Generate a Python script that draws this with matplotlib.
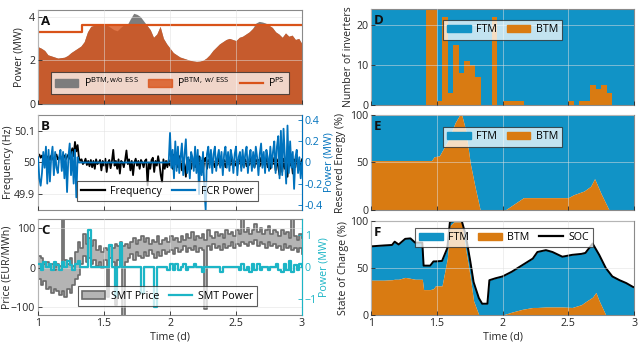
import numpy as np
import matplotlib
matplotlib.use('Agg')
import matplotlib.pyplot as plt
from matplotlib.patches import Patch
from matplotlib.lines import Line2D

plt.rcParams['font.family'] = ['Open Sans', 'DejaVu Sans']
plt.rcParams['font.size'] = 7.7
plt.rcParams['mathtext.fontset'] = 'custom'
plt.rcParams['mathtext.rm'] = 'Open Sans'
plt.rcParams['mathtext.default'] = 'regular'

# ---------------- data ----------------
# A: site load in MW, every 0.025 d from day 1 to day 3
load_wo_ess = [2.62, 2.55, 2.45, 2.25, 2.20, 2.15, 2.10, 2.12, 2.14, 2.22,
               2.35, 2.45, 2.55, 2.65, 2.85, 3.30, 3.55, 3.60, 3.62, 3.62,
               3.62, 3.60, 3.50, 3.40, 3.35, 3.50, 3.62, 3.62, 3.90, 4.15,
               4.10, 4.00, 3.80, 3.60, 3.40, 3.05, 3.20, 3.55, 3.00, 2.75,
               2.55, 2.35, 2.25, 2.15, 2.10, 2.05, 2.00, 1.97, 1.95, 1.96,
               2.00, 2.10, 2.25, 2.45, 2.60, 2.75, 2.85, 2.95, 3.00, 2.95,
               2.90, 3.05, 3.10, 3.20, 3.30, 3.45, 3.70, 3.78, 3.75, 3.70,
               3.60, 3.50, 3.30, 3.20, 3.05, 3.25, 3.10, 3.15, 2.95, 3.00,
               2.75]
load_w_ess = [2.62, 2.55, 2.45, 2.25, 2.20, 2.15, 2.10, 2.12, 2.14, 2.22,
              2.35, 2.45, 2.55, 2.65, 2.85, 3.30, 3.55, 3.60, 3.60, 3.60,
              3.60, 3.60, 3.60, 3.60, 3.60, 3.60, 3.60, 3.60, 3.60, 3.60,
              3.60, 3.60, 3.60, 3.60, 3.40, 3.05, 3.20, 3.55, 3.00, 2.75,
              2.55, 2.35, 2.25, 2.15, 2.10, 2.05, 2.00, 1.97, 1.95, 1.96,
              2.00, 2.10, 2.25, 2.45, 2.60, 2.75, 2.85, 2.95, 3.00, 2.95,
              2.90, 3.05, 3.10, 3.20, 3.30, 3.45, 3.60, 3.60, 3.60, 3.60,
              3.60, 3.50, 3.30, 3.20, 3.05, 3.25, 3.10, 3.15, 2.95, 3.00,
              2.75]
ps_time = [1.0, 1.33, 3.0]
ps_level = [3.3, 3.6, 3.6]

# B: grid frequency deviation (mHz) and FCR power (MW), every 0.01 d
freq_mhz = [20, 25, 15, 22, 10, 18, 25, 12, 20, 8, 22, 15, 5, 18, 25, 10, 15, 20, 8, 15,
            22, 10, 18, 25, 12, 30, 45, 20, 65, 35, 55, 15, 5, 10, -5, 0, 12, -8, 5, -12,
            8, -15, 5, -20, 10, -5, 0, 8, -25, 5, -10, 12, -30, 0, 8, -18, 5, 40, -10, 5,
            -20, 10, -35, 5, 0, -15, 8, 38, -5, 10, -25, 5, -40, 0, 12, -10, 5, -20, 8, 0,
            -15, 5, 10, -72, 0, -20, 8, 15, -30, 5, -10, 20, -5, -40, -62, 10, -20, 5, -15, 8,
            -10, 15, -20, 25, -5, 10, -15, 20, 5, -25, 12, -8, -45, 15, -10, 8, -20, 10, 5, -15,
            12, -8, 20, -15, 5, -30, 10, 15, -20, 8, -5, 12, -10, 5, -15, 10, -8, 15, -12, 5,
            -10, 8, -15, 12, -5, 10, -8, 15, -12, 5, -10, 8, -5, 12, -15, 5, -8, 10, -12, 6,
            -8, 12, -10, 5, -15, 10, -5, 8, -12, 15, -8, 5, -10, 12, -15, 8, -20, 10, -5, 15,
            -25, 10, -15, -40, 20, -30, 12, -20, 8, -45, 15, -10, 5, -35, 10, -15, 20, -10, 5, -12,
            10]
fcr_power = [0.05, -0.15, -0.22, -0.10, 0.10, -0.05, 0.15, -0.20, 0.12, -0.18,
             0.05, 0.15, -0.12, 0.10, -0.05, -0.10, 0.05, 0.12, -0.08, 0.10,
             -0.15, 0.08, -0.28, 0.05, 0.18, -0.12, 0.10, -0.20, 0.12, -0.33,
             0.05, 0.0, 0.0, 0.0, 0.0, 0.0, 0.0, 0.0, 0.0, 0.0,
             0.0, 0.0, 0.0, 0.0, 0.0, 0.0, 0.0, 0.0, 0.0, 0.0,
             0.0, 0.0, 0.0, 0.0, 0.0, 0.0, 0.0, 0.0, 0.0, 0.0,
             0.0, 0.0, 0.0, 0.0, 0.0, 0.0, 0.0, 0.0, 0.0, 0.0,
             0.0, 0.0, 0.0, 0.0, 0.0, 0.0, 0.0, 0.0, 0.0, 0.0,
             0.0, 0.0, 0.0, 0.0, 0.0, 0.0, 0.0, 0.0, 0.0, 0.0,
             0.0, 0.0, 0.0, 0.0, 0.0, 0.0, 0.0, 0.0, 0.0, 0.0,
             0.28, -0.05, 0.12, -0.15, 0.20, -0.08, 0.15, -0.10, 0.05, 0.18,
             -0.12, 0.08, 0.22, -0.10, 0.05, -0.15, 0.10, 0.05, -0.08, 0.15,
             -0.10, 0.12, -0.30, 0.05, -0.12, 0.10, -0.25, -0.45, 0.08, 0.15,
             -0.05, 0.12, -0.10, 0.08, 0.15, -0.08, 0.05, 0.12, -0.05, 0.10,
             -0.12, 0.08, 0.15, -0.05, 0.10, -0.08, 0.12, 0.05, -0.10, 0.08,
             0.15, -0.12, 0.05, 0.10, -0.08, 0.12, -0.05, 0.08, 0.15, -0.10,
             0.05, 0.12, -0.08, 0.10, -0.05, 0.15, 0.05, -0.12, 0.08, 0.18,
             -0.05, 0.10, -0.10, 0.12, 0.05, -0.08, 0.15, -0.05, 0.10, 0.20,
             -0.10, 0.15, 0.25, -0.15, 0.30, -0.12, 0.32, 0.05, -0.20, 0.35,
             -0.10, 0.20, -0.05, 0.10, -0.25, 0.05, 0.12, -0.10, 0.05, -0.15,
             0.0]

# C: SMT price band (EUR/MWh) and SMT power (MW), every 0.02 d
price_upper = [30, 25, 10, 15, 5, 10, -5, 10, 5, 125,
               20, 10, 25, 5, 40, 65, 50, 85, 60, 75,
               55, 70, 45, 55, 40, 50, 45, 55, 50, 60,
               55, 65, 55, 60, 50, 65, 75, 60, 70, 80,
               65, 75, 60, 70, 65, 80, 60, 70, 75, 65,
               80, 70, 75, 65, 80, 70, 85, 75, 90, 70,
               80, 75, 85, 70, 95, 80, 75, 90, 80, 85,
               75, 95, 85, 90, 80, 95, 85, 125, 90, 100,
               85, 95, 110, 90, 100, 85, 95, 105, 85, 95,
               90, 80, 95, 85, 90, 75, 125, 80, 70, 85,
               75]
price_lower = [-30, -45, -35, -55, -50, -65, -55, -60, -70, -60,
               -75, -55, -65, -45, -30, -20, 10, 30, 15, 25,
               10, 20, 5, 15, 0, 20, -75, 25, 15, -95,
               20, 10, -125, 15, 25, 35, 20, 40, 30, 25,
               40, 30, 45, 35, 25, 40, 30, 45, 35, 40,
               45, 35, 50, 40, 45, 55, 40, 50, 45, 55,
               40, 50, 45, -105, 55, 45, 60, 50, 55, 45,
               60, 50, 55, 65, 50, 60, 55, 65, 60, 55,
               65, 60, 70, 55, 65, 60, 50, 65, 55, 60,
               50, 55, 45, 60, 50, 55, 45, 50, 40, 50,
               35]
smt_power = [0.10, -0.10, 0.15, 0.00, 0.10, -0.10, 0.15, 0.05, -0.10, 0.15,
             0.00, 0.20, 0.05, -0.10, 0.10, 0.20, 0.00, 0.00, 0.00, 1.15,
             0.00, 0.00, 0.00, 0.00, 0.00, 0.00, 0.00, 0.70, 0.00, -0.90,
             0.00, 0.75, 0.00, 0.00, 0.00, 0.00, 0.00, 0.00, 0.00, -0.80,
             0.00, 0.00, 0.00, 0.00, -1.25, 0.00, 0.00, 0.00, 0.00, -0.10,
             0.10, -0.10, 0.10, -0.10, 0.00, 0.10, -0.10, 0.00, 0.00, 0.10,
             0.00, 0.00, -0.15, 0.00, 0.00, 0.00, 0.00, 0.00, 0.00, -0.15,
             0.00, 0.00, 0.00, 0.00, 0.00, 0.00, -0.10, 0.10, -0.10, 0.00,
             -0.15, 0.10, -0.10, 0.10, -0.10, 0.00, 0.00, -0.10, 0.00, 0.00,
             0.10, -0.10, -0.15, 0.10, -0.10, 0.20, -0.15, 0.05, -0.10, 0.10,
             0.00]

# D: inverters assigned to BTM per hour (of 24)
n_inverters = 24
inv_btm = [0, 0, 0, 0, 0, 0, 0, 0, 0, 0, 24, 24,
           1, 22, 3, 15, 8, 11, 10, 7, 0, 0, 22, 0,
           1, 1, 1, 1, 0, 0, 0, 0, 0, 0, 0, 0,
           1, 0, 1, 1, 5, 4, 5, 3, 0, 0, 0, 0]

# E: reserved energy share for BTM (%)
e_time = [1.0, 1.46, 1.48, 1.52, 1.54, 1.59, 1.64, 1.674, 1.69, 1.72, 1.755, 1.79,
          1.83, 2.02, 2.16, 2.5, 2.54, 2.62, 2.67, 2.70, 2.75, 2.81, 3.0]
e_btm = [52, 52, 56, 57, 62, 74, 92, 100, 100, 84, 49, 25,
         0, 0, 13, 13, 16, 20, 25, 33, 17, 0, 0]

# F: state of charge (%) and its BTM part
f_time = [1.00, 1.10, 1.16, 1.18, 1.21, 1.26, 1.30, 1.335, 1.39, 1.40, 1.45, 1.475,
          1.49, 1.54, 1.58, 1.60, 1.63, 1.69, 1.72, 1.755, 1.78, 1.82, 1.845, 1.885,
          1.90, 1.945, 2.00, 2.07, 2.15, 2.23, 2.265, 2.33, 2.38, 2.455, 2.53, 2.60,
          2.63, 2.685, 2.71, 2.735, 2.785, 2.835, 2.89, 2.94, 2.99, 3.00]
soc = [73, 74, 74.5, 78, 75, 81, 81.5, 77, 77, 52.5, 52.5, 57,
       57, 57.5, 71, 99, 100, 100, 85, 57, 35, 18, 12, 12,
       37, 39, 41, 46, 53, 60, 67, 69, 67, 62, 64, 65,
       66, 76, 70, 64, 50, 41, 37, 34, 30, 29.5]
soc_btm = [37, 37, 37.5, 38, 38, 40, 39, 38, 38, 27, 27, 28,
           31, 31, 60, 95, 99, 99, 70, 40, 15, 0, 0, 0,
           0, 0, 0, 3, 6, 8, 8, 8.5, 8.5, 8.5, 8, 11,
           14, 19, 24, 15, 0, 0, 0, 0, 0, 0]

# ---------------- colours ----------------
FTM_C = '#1193c6'
BTM_C = '#d97b12'
GREY_C = '#7d7d7d'
ORANGE_C = '#d95319'
FCR_C = '#0072bd'
SMT_C = '#1cb5c6'
TXT_C = '#262626'

fig = plt.figure(figsize=(6.4, 3.51), dpi=100)

def style(ax, show_x=False):
    ax.set_xlim(1, 3)
    ax.set_xticks([1, 1.5, 2, 2.5, 3])
    if show_x:
        ax.set_xticklabels(['1', '1.5', '2', '2.5', '3'])
        ax.set_xlabel('Time (d)', color=TXT_C, labelpad=2)
    else:
        ax.set_xticklabels([])
    ax.grid(True, color='#e0e0e0', linewidth=0.6, alpha=0.6)
    ax.set_axisbelow(False)
    ax.tick_params(direction='in', length=3, width=0.6, colors=TXT_C, pad=2)
    for s in ax.spines.values():
        s.set_color('#8a8a8a')
        s.set_linewidth(0.8)

def letter(ax, s):
    ax.text(0.012, 0.95, s, transform=ax.transAxes, fontsize=9.5, fontweight='bold',
            va='top', ha='left', color='#111111', zorder=10)

def legend(ax, handles, labels, ncol, **kw):
    leg = ax.legend(handles, labels, ncol=ncol, fancybox=False, framealpha=0.75,
                    edgecolor=TXT_C, fontsize=7.7, handlelength=2.2, handletextpad=0.5,
                    columnspacing=0.9, borderpad=0.4, **kw)
    leg.get_frame().set_linewidth(0.8)
    leg.set_zorder(20)
    return leg

# ---- A ----
axA = fig.add_axes([0.0594, 0.7037, 0.4125, 0.2678])
tA = np.linspace(1, 3, len(load_wo_ess))
axA.fill_between(tA, 0, load_wo_ess, color=GREY_C, linewidth=0)
axA.fill_between(tA, 0, load_w_ess, color=ORANGE_C, alpha=0.8, linewidth=0)
axA.plot(ps_time, ps_level, drawstyle='steps-post', color=ORANGE_C, linewidth=1.6)
axA.set_ylim(0, 4.3)
axA.set_yticks([0, 2, 4])
style(axA)
axA.set_ylabel('Power (MW)', color=TXT_C)
axA.yaxis.set_label_coords(-0.05, 0.5)
letter(axA, 'A')
legend(axA, [Patch(color=GREY_C), Patch(color=ORANGE_C, alpha=0.8),
             Line2D([], [], color=ORANGE_C, linewidth=1.6)],
       [r'$P^{BTM,w/o\ ESS}$', r'$P^{BTM,\ w/\ ESS}$', r'$P^{PS}$'], 3,
       loc='lower center', bbox_to_anchor=(0.5, 0.05))

# ---- B ----
axB = fig.add_axes([0.0594, 0.4017, 0.4125, 0.2707])
tB = np.linspace(1, 3, len(freq_mhz))
freq = 50 + np.array(freq_mhz) / 1000.0
axB.plot(tB, freq, color='black', linewidth=1.3)
axB.set_ylim(49.85, 50.15)
axB.set_yticks([49.9, 50, 50.1])
axB.set_yticklabels(['49.9', '50', '50.1'])
style(axB)
axB.set_ylabel('Frequency (Hz)', color=TXT_C)
axB.yaxis.set_label_coords(-0.09, 0.5)
axB2 = axB.twinx()
axB2.plot(tB, fcr_power, color=FCR_C, linewidth=1.3)
axB2.set_ylim(-0.45, 0.45)
axB2.set_yticks([-0.4, -0.2, 0, 0.2, 0.4])
axB2.set_yticklabels(['-0.4', '-0.2', '0', '0.2', '0.4'])
axB2.tick_params(direction='in', length=3, width=0.6, colors=FCR_C, pad=2)
for s in ['left', 'top', 'bottom']:
    axB2.spines[s].set_visible(False)
axB2.spines['right'].set_color(FCR_C)
axB2.set_ylabel('Power (MW)', color=FCR_C)
axB2.yaxis.set_label_coords(1.083, 0.5)
letter(axB2, 'B')
legend(axB2, [Line2D([], [], color='black', linewidth=1.6),
              Line2D([], [], color=FCR_C, linewidth=1.6)],
       ['Frequency', 'FCR Power'], 2, loc='lower center', bbox_to_anchor=(0.49, 0.04))

# ---- C ----
axC = fig.add_axes([0.0594, 0.1026, 0.4125, 0.2735])
tC = np.linspace(1, 3, len(price_upper))
axC.fill_between(tC, price_lower, price_upper, step='post', color='#b4b4b4', linewidth=0)
axC.plot(tC, price_upper, drawstyle='steps-post', color='#6a6a6a', linewidth=1.2)
axC.plot(tC, price_lower, drawstyle='steps-post', color='#6a6a6a', linewidth=1.2)
axC.set_ylim(-120, 123)
axC.set_yticks([-100, 0, 100])
style(axC, show_x=True)
axC.set_ylabel('Price (EUR/MWh)', color=TXT_C)
axC.yaxis.set_label_coords(-0.095, 0.5)
axC2 = axC.twinx()
axC2.plot(tC, smt_power, drawstyle='steps-post', color=SMT_C, linewidth=1.6)
axC2.set_ylim(-1.5, 1.5)
axC2.set_yticks([-1, 0, 1])
axC2.tick_params(direction='in', length=3, width=0.6, colors=SMT_C, pad=2)
for s in ['left', 'top', 'bottom']:
    axC2.spines[s].set_visible(False)
axC2.spines['right'].set_color(SMT_C)
axC2.set_ylabel('Power (MW)', color=SMT_C)
axC2.yaxis.set_label_coords(1.062, 0.5)
letter(axC2, 'C')
legend(axC2, [Patch(facecolor='#b4b4b4', edgecolor='#6a6a6a', linewidth=1.2),
              Line2D([], [], color=SMT_C, linewidth=1.6)],
       ['SMT Price', 'SMT Power'], 2, loc='lower center', bbox_to_anchor=(0.49, 0.04))

# ---- D ----
axD = fig.add_axes([0.5797, 0.7009, 0.411, 0.2735])
edges = 1 + np.arange(len(inv_btm) + 1) / 24.0
btm_arr = np.array(inv_btm, dtype=float)
axD.stairs(np.full(len(inv_btm), n_inverters, dtype=float), edges, baseline=btm_arr,
           fill=True, color=FTM_C)
axD.stairs(btm_arr, edges, baseline=0, fill=True, color=BTM_C)
axD.set_ylim(0, n_inverters)
axD.set_yticks([0, 10, 20])
style(axD)
axD.set_ylabel('Number of inverters', color=TXT_C)
axD.yaxis.set_label_coords(-0.065, 0.5)
letter(axD, 'D')
legend(axD, [Patch(color=FTM_C), Patch(color=BTM_C)], ['FTM', 'BTM'], 2,
       loc='upper center', bbox_to_anchor=(0.5, 0.94))

# ---- E ----
axE = fig.add_axes([0.5797, 0.4017, 0.411, 0.2707])
axE.fill_between(e_time, e_btm, 100, color=FTM_C, linewidth=0)
axE.fill_between(e_time, 0, e_btm, color=BTM_C, linewidth=0)
axE.set_ylim(0, 100)
axE.set_yticks([0, 50, 100])
style(axE)
axE.set_ylabel('Reserved Energy (%)', color=TXT_C)
axE.yaxis.set_label_coords(-0.095, 0.5)
letter(axE, 'E')
legend(axE, [Patch(color=FTM_C), Patch(color=BTM_C)], ['FTM', 'BTM'], 2,
       loc='upper center', bbox_to_anchor=(0.5, 0.93))

# ---- F ----
axF = fig.add_axes([0.5797, 0.1026, 0.411, 0.2678])
axF.fill_between(f_time, soc_btm, soc, color=FTM_C, linewidth=0)
axF.fill_between(f_time, 0, soc_btm, color=BTM_C, linewidth=0)
axF.plot(f_time, soc, color='black', linewidth=1.4)
axF.set_ylim(0, 100)
axF.set_yticks([0, 50, 100])
style(axF, show_x=True)
axF.set_ylabel('State of Charge (%)', color=TXT_C)
axF.yaxis.set_label_coords(-0.085, 0.5)
letter(axF, 'F')
legend(axF, [Patch(color=FTM_C), Patch(color=BTM_C),
             Line2D([], [], color='black', linewidth=1.6)],
       ['FTM', 'BTM', 'SOC'], 3, loc='upper center', bbox_to_anchor=(0.505, 0.985))

fig.savefig('out.png', dpi=100)
